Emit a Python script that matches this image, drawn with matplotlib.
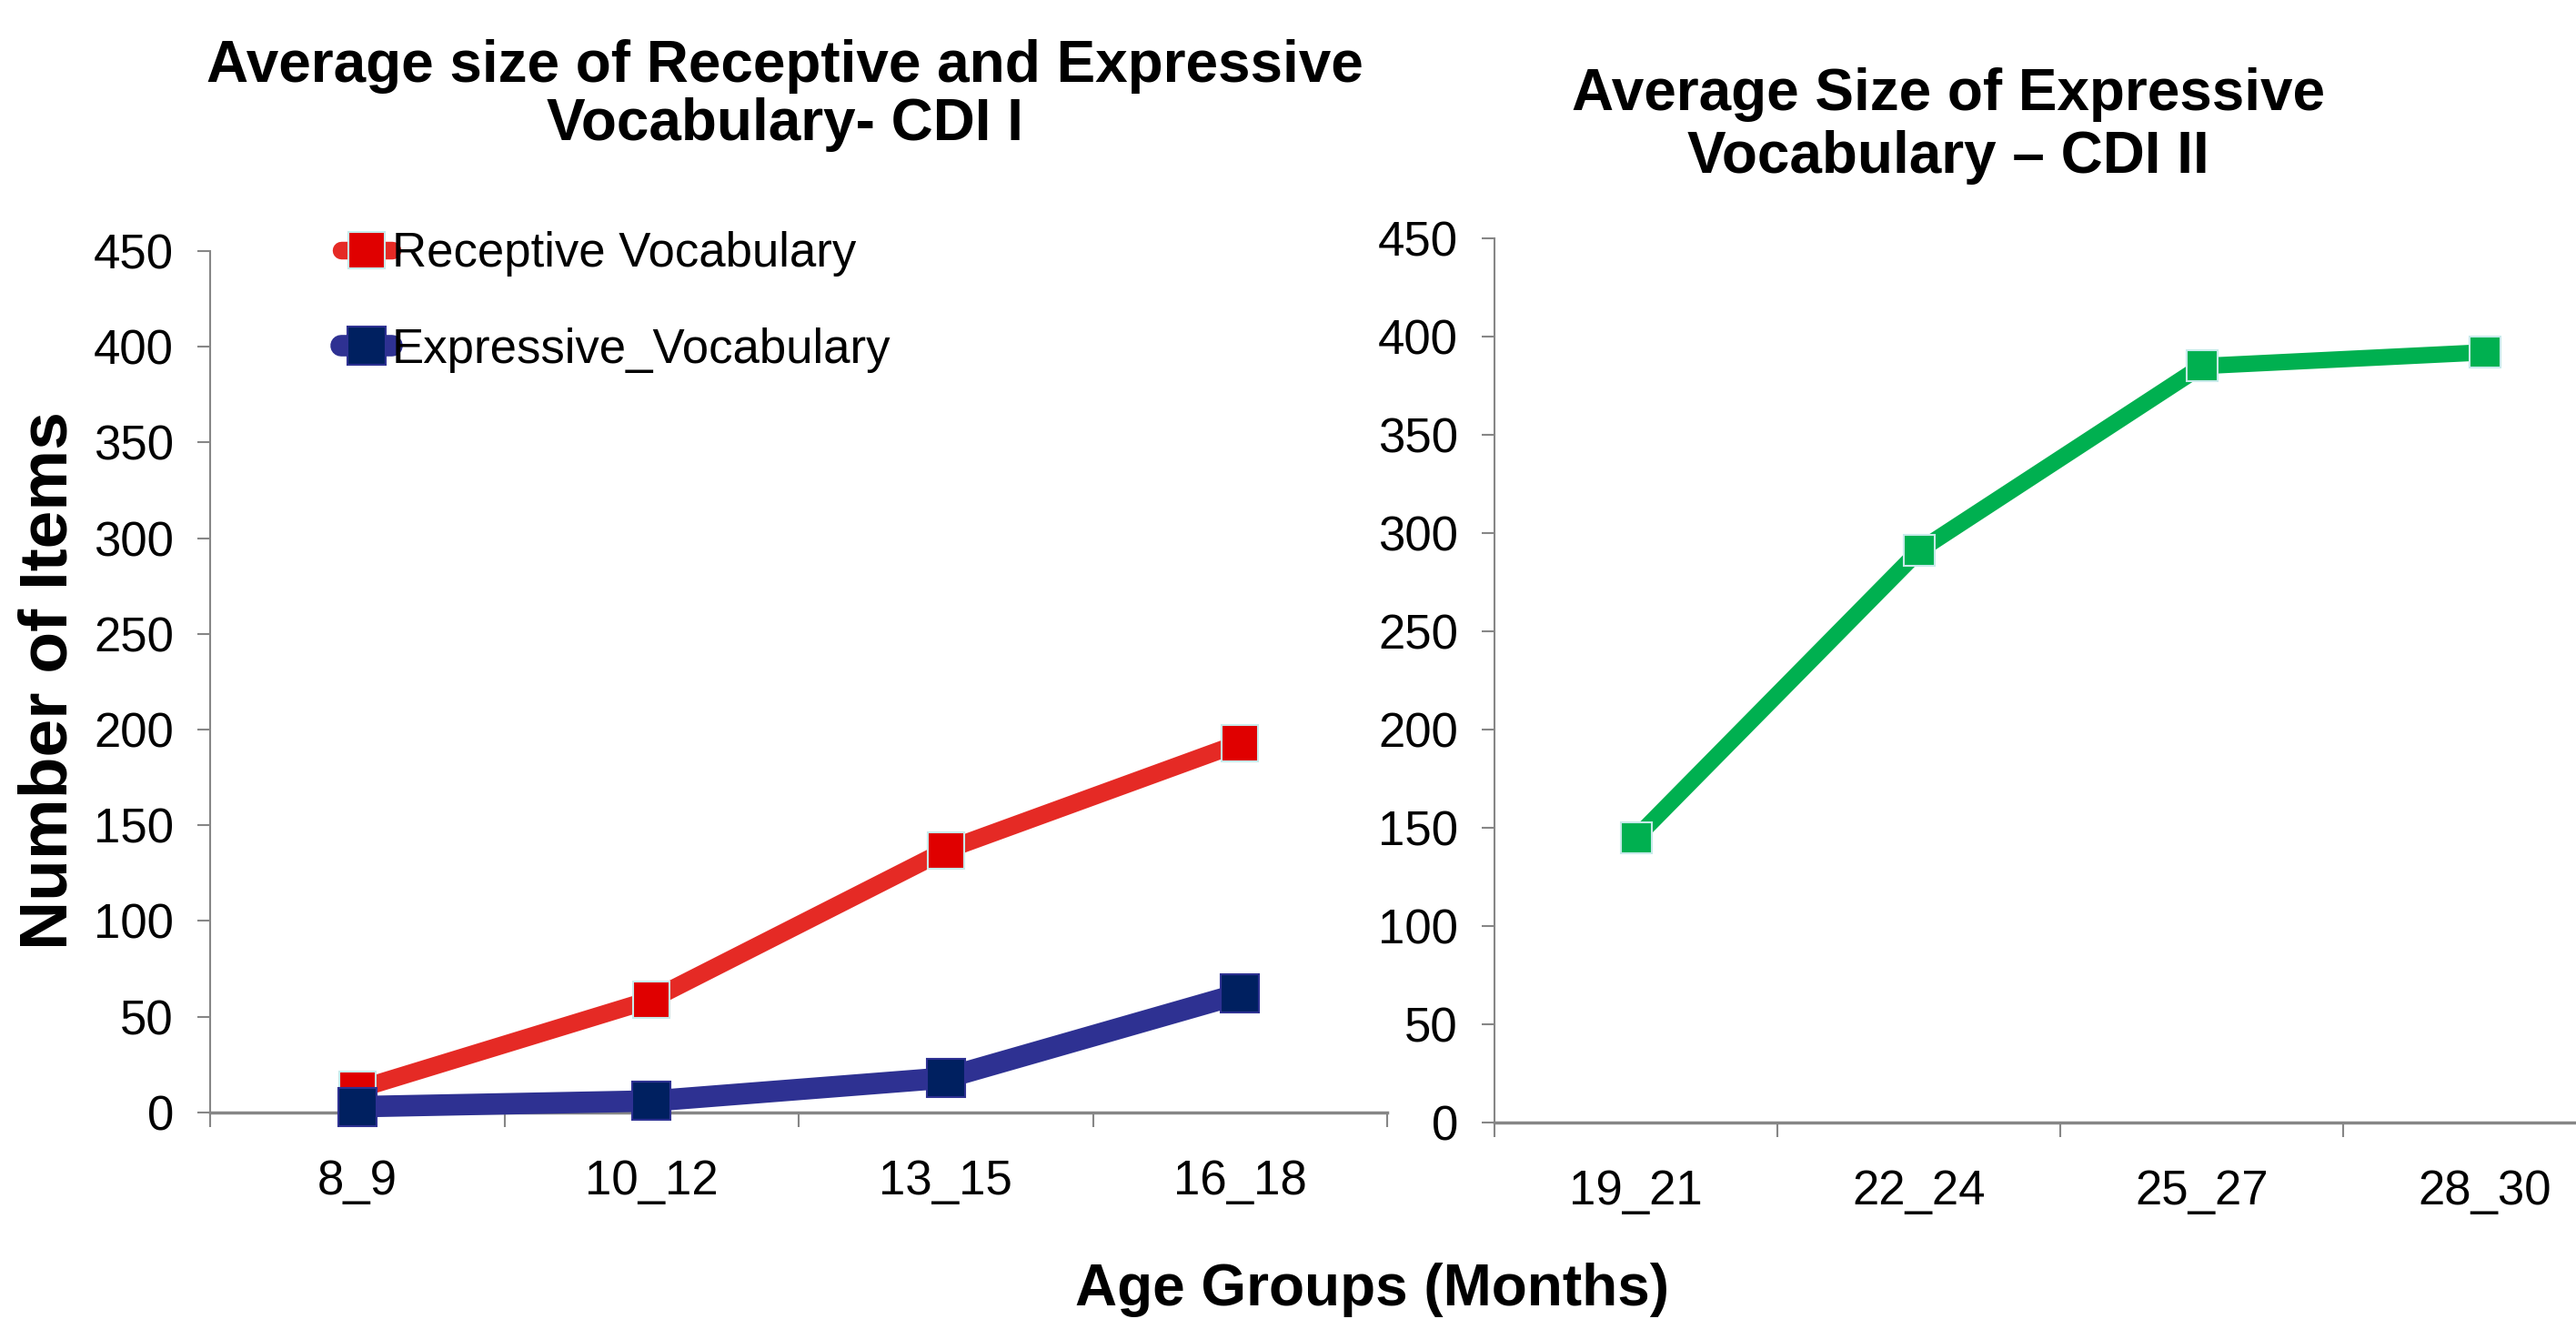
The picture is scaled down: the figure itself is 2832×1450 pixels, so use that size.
import matplotlib

matplotlib.use('Agg')
import matplotlib.pyplot as plt

plt.rcParams['font.family'] = ['Liberation Sans', 'DejaVu Sans']

# --- data ---
age_groups_cdi1 = ['8_9', '10_12', '13_15', '16_18']
receptive = [12, 59, 137, 193]
expressive = [3, 6, 18, 62]

age_groups_cdi2 = ['19_21', '22_24', '25_27', '28_30']
expressive_cdi2 = [145, 291, 385, 392]

y_ticks = list(range(0, 451, 50))

AXIS_GRAY = '#868686'
EDGE = '#c8eaea'
TICK_FS = 38


def style_axes(ax, labels):
    n = len(labels)
    centers = [i + 0.5 for i in range(n)]
    ax.set_xlim(0, n)
    ax.set_ylim(0, 450)
    ax.set_yticks(y_ticks)
    ax.set_xticks(centers)
    ax.set_xticklabels(labels)
    ax.set_xticks(range(n + 1), minor=True)
    ax.tick_params(axis='x', which='major', length=0, pad=37, labelsize=TICK_FS)
    ax.tick_params(axis='x', which='minor', length=11.5, width=1.5, color=AXIS_GRAY, direction='out')
    ax.tick_params(axis='y', length=10, width=1.5, color=AXIS_GRAY, pad=19, labelsize=TICK_FS)
    for side in ('top', 'right'):
        ax.spines[side].set_visible(False)
    ax.spines['left'].set_color(AXIS_GRAY)
    ax.spines['bottom'].set_color(AXIS_GRAY)
    ax.spines['left'].set_linewidth(1.5)
    ax.spines['bottom'].set_linewidth(2.5)
    return centers


fig = plt.figure(figsize=(28.32, 14.5), dpi=100)

# --- CDI I ---
ax1 = fig.add_axes([0.0816, 0.1566, 0.4569, 0.6531])
x1 = style_axes(ax1, age_groups_cdi1)
ax1.plot(x1, receptive, color='#e52a25', lw=14, marker='s', ms=29, mfc='#e00000',
         mec=EDGE, mew=1.5, solid_capstyle='round', clip_on=False, zorder=3,
         label='Receptive Vocabulary')
ax1.plot(x1, expressive, color='#2e3192', lw=17, marker='s', ms=30, mfc='#002060',
         mec='#2e3192', mew=1.5, solid_capstyle='round', clip_on=False, zorder=4,
         label='Expressive_Vocabulary')
ax1.legend(loc='upper left', bbox_to_anchor=(0.095, 1.045), frameon=False,
           fontsize=TICK_FS, handlelength=1.05, handletextpad=0.0, labelspacing=1.05,
           numpoints=1, borderaxespad=0)

# --- CDI II ---
ax2 = fig.add_axes([0.5802, 0.149, 0.4393, 0.6703])
x2 = style_axes(ax2, age_groups_cdi2)
ax2.plot(x2, expressive_cdi2, color='#00b050', lw=13, marker='s', ms=25, mfc='#00b050',
         mec=EDGE, mew=1.5, clip_on=False, zorder=3)

# --- titles and labels ---
fig.text(0.3047, 0.9275, 'Average size of Receptive and Expressive\nVocabulary- CDI I',
         ha='center', va='center', fontsize=46, fontweight='bold', linespacing=1.1)
fig.text(0.7564, 0.9045, 'Average Size of Expressive\nVocabulary \u2013 CDI II',
         ha='center', va='center', fontsize=46, fontweight='bold', linespacing=1.2)
fig.text(0.019, 0.484, 'Number of Items', rotation=90, ha='center', va='center',
         fontsize=54, fontweight='bold')
fig.text(0.5325, 0.022, 'Age Groups (Months)', ha='center', va='center',
         fontsize=46, fontweight='bold')

fig.savefig('out.png', dpi=100)
plt.close(fig)
